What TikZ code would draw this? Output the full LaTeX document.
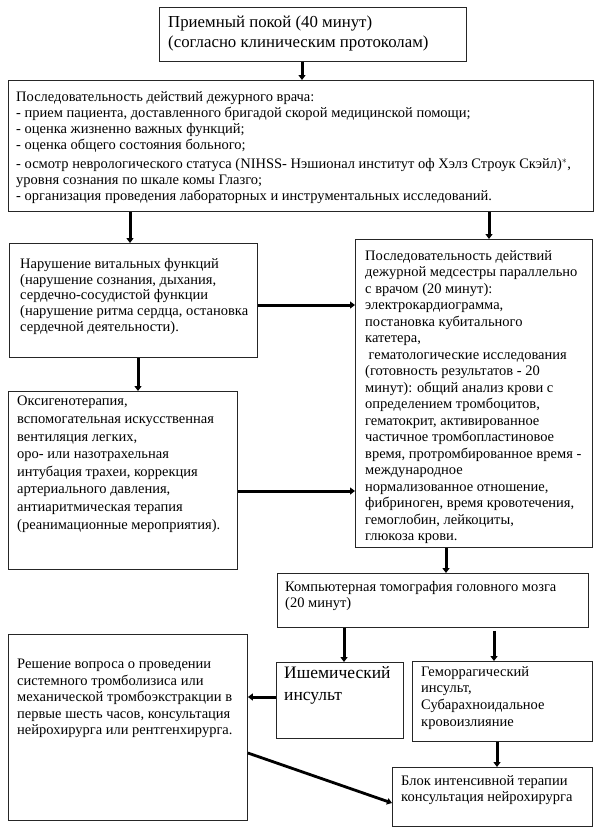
\documentclass[tikz,border=0pt]{standalone}
\usepackage{fontspec}
\setmainfont{Liberation Serif}
\usetikzlibrary{arrows.meta,calc}
\begin{document}
\begin{tikzpicture}[x=1pt,y=-1pt,
  bx/.style={draw=black!85, line width=0.9pt, anchor=north west, inner sep=0pt},
  txt/.style={anchor=north west, inner sep=0pt, align=left},
  fs/.style={font=\fontsize{14.5}{#1}\selectfont},
  arr/.style={line width=3pt, -{Triangle[length=5pt,width=7pt]}},
  arrthin/.style={line width=2.8pt, -{Triangle[length=5pt,width=6.5pt]}}]
\useasboundingbox (0,0) rectangle (600,836);
\fill[white] (0,0) rectangle (600,836);

% boxes
\node[bx, minimum width=307pt, minimum height=54pt] (b1) at (159,7) {};
\node[bx, minimum width=585pt, minimum height=131pt] (b2) at (8,80) {};
\node[bx, minimum width=248pt, minimum height=114pt] (b3) at (9,243) {};
\node[bx, minimum width=237pt, minimum height=308pt] (b4) at (355,239) {};
\node[bx, minimum width=229pt, minimum height=178pt] (b5) at (8,391) {};
\node[bx, minimum width=311pt, minimum height=54pt] (b6) at (277,573) {};
\node[bx, minimum width=127pt, minimum height=76pt] (b7) at (276,662) {};
\node[bx, minimum width=180pt, minimum height=80pt] (b8) at (412,661) {};
\node[bx, minimum width=239pt, minimum height=186pt] (b9) at (8,634) {};
\node[bx, minimum width=200pt, minimum height=59pt] (b10) at (392,767) {};

% texts
\node[txt, font=\fontsize{16.8}{20}\selectfont] (t1) at (168,15.5)
  {Приемный покой (40 минут)\\(согласно клиническим протоколам)};
\node[txt, fs=16.2] (t2) at (16,91)
  {Последовательность действий дежурного врача:\\
   - прием пациента, доставленного бригадой скорой медицинской помощи;\\
   - оценка жизненно важных функций;\\
   - оценка общего состояния больного;\\[2.5pt]
   - осмотр неврологического статуса (NIHSS- Нэшионал институт оф Хэлз Строук Скэйл)$^{*}$,\\
   уровня сознания по шкале комы Глазго;\\
   - организация проведения лабораторных и инструментальных исследований.};
\node[txt, fs=15.8] (t3) at (20,258)
  {Нарушение витальных функций\\
   (нарушение сознания, дыхания,\\
   сердечно-сосудистой функции\\
   (нарушение ритма сердца, остановка\\
   сердечной деятельности).};
\node[txt, fs=16.5] (t4) at (365,250)
  {Последовательность действий\\
   дежурной медсестры параллельно\\
   с врачом (20 минут):\\
   электрокардиограмма,\\
   постановка кубитального\\
   катетера,\\
   \hspace{3.5pt}гематологические исследования\\
   (готовность результатов - 20\\
   минут): общий анализ крови с\\
   определением тромбоцитов,\\
   гематокрит, активированное\\
   частичное тромбопластиновое\\
   время, протромбированное время -\\
   международное\\
   нормализованное отношение,\\
   фибриноген, время кровотечения,\\
   гемоглобин, лейкоциты,\\
   глюкоза крови.};
\node[txt, fs=17.6] (t5) at (17,396)
  {Оксигенотерапия,\\
   вспомогательная искусственная\\
   вентиляция легких,\\
   оро- или назотрахельная\\
   интубация трахеи, коррекция\\
   артериального давления,\\
   антиаритмическая терапия\\
   (реанимационные мероприятия).};
\node[txt, fs=16] (t6) at (285,581)
  {Компьютерная томография головного мозга\\(20 минут)};
\node[txt, font=\fontsize{17.5}{22}\selectfont] (t7) at (284,666)
  {Ишемический\\инсульт};
\node[txt, fs=16.7] (t8) at (421,666)
  {Геморрагический\\инсульт,\\Субарахноидальное\\кровоизлияние};
\node[txt, fs=16.5] (t9) at (17,659)
  {Решение вопроса о проведении\\
   системного тромболизиса или\\
   механической тромбоэкстракции в\\
   первые шесть часов, консультация\\
   нейрохирурга или рентгенхирурга.};
\node[txt, fs=16.5] (t10) at (401,775)
  {Блок интенсивной терапии\\консультация нейрохирурга};

% connector reference coordinates
\coordinate (x1) at (302,0);
\coordinate (x2) at (130,0);
\coordinate (x3) at (489,0);
\coordinate (y4) at (0,305);
\coordinate (x5) at (138,0);
\coordinate (y6) at (0,491);
\coordinate (x7) at (446,0);
\coordinate (x8) at (344,0);
\coordinate (x9) at (494,0);
\coordinate (y10) at (0,697);
\coordinate (x11) at (497,0);

% connectors
\draw[arr] (b1.south -| x1) -- (b2.north -| x1);
\draw[arr] (b2.south -| x2) -- (b3.north -| x2);
\draw[arr] (b2.south -| x3) -- (b4.north -| x3);
\draw[arr] (b3.east |- y4) -- (b4.west |- y4);
\draw[arr] (b3.south -| x5) -- (b5.north -| x5);
\draw[arr] (b5.east |- y6) -- (b4.west |- y6);
\draw[arr] (b4.south -| x7) -- (b6.north -| x7);
\draw[arr] (b6.south -| x8) -- (b7.north -| x8);
\draw[arr] ($(b6.south -| x9)+(0,3)$) -- (b8.north -| x9);
\draw[arr] (b7.west |- y10) -- (b9.east |- y10);
\draw[arr] (b8.south -| x11) -- (b10.north -| x11);
\draw[arrthin] ($(b9.north east)+(0,119)$) -- ($(b10.north west)+(0,36)$);
\end{tikzpicture}
\end{document}
